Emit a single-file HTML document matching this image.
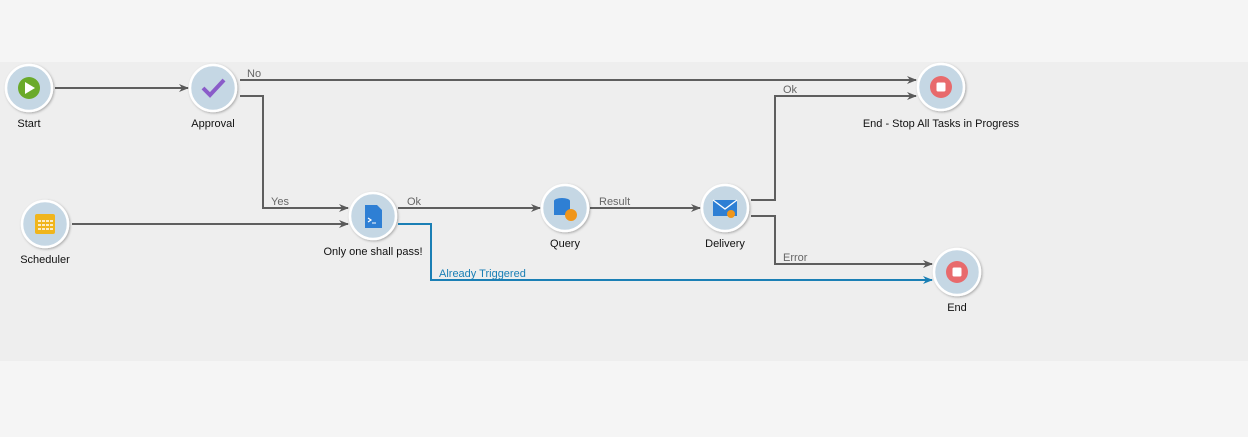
<!DOCTYPE html>
<html><head><style>
body{margin:0;width:1248px;height:432px;background:#f5f5f5;overflow:hidden;font-family:"Liberation Sans",Arial,sans-serif}
</style></head><body>
<svg width="1248" height="432" xmlns="http://www.w3.org/2000/svg" font-family="Liberation Sans, Arial, sans-serif">
<defs>
<marker id="a" markerWidth="10" markerHeight="8" refX="9" refY="4" orient="auto" markerUnits="userSpaceOnUse"><path d="M0,0 L10,4 L0,8 L3,4z" fill="#5a5a5a"/></marker>
<marker id="b" markerWidth="10" markerHeight="8" refX="9" refY="4" orient="auto" markerUnits="userSpaceOnUse"><path d="M0,0 L10,4 L0,8 L3,4z" fill="#1a7fb5"/></marker>
<filter id="s" x="-30%" y="-30%" width="160%" height="160%"><feDropShadow dx="1" dy="1" stdDeviation="1.2" flood-color="#000" flood-opacity="0.3"/></filter>
</defs>
<rect x="0" y="62" width="1248" height="299" fill="#eeeeee"/>
<g fill="none" stroke="#5e5e5e" stroke-width="2">
<path d="M55,88 H188" marker-end="url(#a)"/>
<path d="M240,80 H916" marker-end="url(#a)"/>
<path d="M240,96 H263 V208 H348" marker-end="url(#a)"/>
<path d="M72,224 H348" marker-end="url(#a)"/>
<path d="M398,208 H540" marker-end="url(#a)"/>
<path d="M590,208 H700" marker-end="url(#a)"/>
<path d="M751,200 H775 V96 H916" marker-end="url(#a)"/>
<path d="M751,216 H775 V264 H932" marker-end="url(#a)"/>
</g>
<path d="M398,224 H431 V280 H932" fill="none" stroke="#1a7fb5" stroke-width="2" marker-end="url(#b)"/>
<g font-size="11" fill="#666">
<text x="247" y="77">No</text>
<text x="271" y="205">Yes</text>
<text x="407" y="205">Ok</text>
<text x="599" y="205">Result</text>
<text x="783" y="93">Ok</text>
<text x="783" y="261">Error</text>
</g>
<text x="439" y="277" font-size="11" fill="#1a7fb5">Already Triggered</text>
<g fill="#c5d7e4" stroke="#fff" stroke-width="2.5" filter="url(#s)">
<circle cx="29" cy="88" r="23"/>
<circle cx="213" cy="88" r="23"/>
<circle cx="45" cy="224" r="23"/>
<circle cx="373" cy="216" r="23"/>
<circle cx="565" cy="208" r="23"/>
<circle cx="725" cy="208" r="23"/>
<circle cx="941" cy="87" r="23"/>
<circle cx="957" cy="272" r="23"/>
</g>
<circle cx="29" cy="88" r="11" fill="#6aaa2a"/><path d="M25,82 L35,88 L25,94z" fill="#fff"/>
<path d="M203,88 L210,95 L224,80" fill="none" stroke="#8a5cc9" stroke-width="4"/>
<rect x="35" y="214" width="20" height="20" rx="2" fill="#f0b51c"/>
<g fill="#fff" opacity=".75"><rect x="38" y="220" width="3" height="2"/><rect x="42" y="220" width="3" height="2"/><rect x="46" y="220" width="3" height="2"/><rect x="50" y="220" width="3" height="2"/><rect x="38" y="224" width="3" height="2"/><rect x="42" y="224" width="3" height="2"/><rect x="46" y="224" width="3" height="2"/><rect x="50" y="224" width="3" height="2"/><rect x="38" y="228" width="3" height="2"/><rect x="42" y="228" width="3" height="2"/><rect x="46" y="228" width="3" height="2"/><rect x="50" y="228" width="3" height="2"/></g>
<path d="M365,205 H377 L382,210 V228 H365z" fill="#2e7fd4"/><path d="M368,218 L371,220 L368,222" stroke="#fff" fill="none" stroke-width="1.2"/><path d="M372,223 H376" stroke="#fff"/>
<ellipse cx="562" cy="201" rx="8" ry="3" fill="#2e7fd4"/><rect x="554" y="201" width="16" height="14" fill="#2e7fd4"/><circle cx="571" cy="215" r="6" fill="#f0961b"/>
<path d="M713,200 H737 V216 H713z" fill="#2e7fd4"/><path d="M713,200 L725,209 L737,200" stroke="#fff" fill="none" stroke-width="1.3"/><circle cx="731" cy="214" r="4" fill="#f0961b"/>
<circle cx="941" cy="87" r="11" fill="#e86a6c"/><rect x="936.5" y="82.5" width="9" height="9" rx="1.5" fill="#fff"/>
<circle cx="957" cy="272" r="11" fill="#e86a6c"/><rect x="952.5" y="267.5" width="9" height="9" rx="1.5" fill="#fff"/>
<g font-size="11" fill="#111" text-anchor="middle">
<text x="29" y="127">Start</text>
<text x="213" y="127">Approval</text>
<text x="45" y="263">Scheduler</text>
<text x="373" y="255">Only one shall pass!</text>
<text x="565" y="247">Query</text>
<text x="725" y="247">Delivery</text>
<text x="941" y="127">End - Stop All Tasks in Progress</text>
<text x="957" y="311">End</text>
</g>
</svg>
</body></html>
